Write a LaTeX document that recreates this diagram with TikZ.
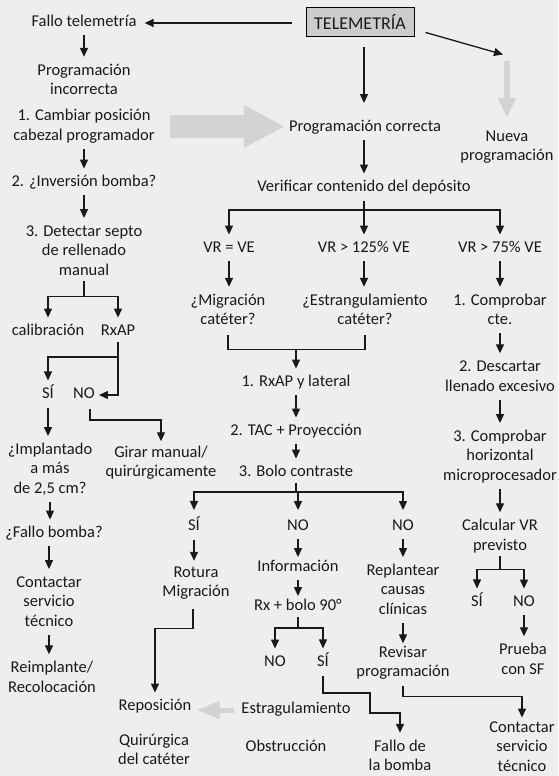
\documentclass[tikz,border=0pt]{standalone}
\usepackage{fontspec}
\setmainfont{Carlito}
\usetikzlibrary{arrows.meta}
\definecolor{bg}{HTML}{EEEEEE}
\definecolor{boxfill}{HTML}{CCCCCC}
\definecolor{ghost}{HTML}{D3D3D3}
\begin{document}
\begin{tikzpicture}[x=1pt,y=-1pt,
  t/.style={inner sep=0pt,align=center,font=\fontsize{16.5}{19.5}\selectfont,text=black!90},
  ln/.style={line width=1.3pt,draw=black!90},
  tip/.style={-{Triangle[length=9pt,width=8pt]}},
  ar/.style={ln,tip,shorten <=2.5pt,shorten >=4.5pt},
  br/.style={ln,tip,shorten >=4.5pt},
  ghostar/.style={draw=ghost}]
\fill[bg] (0,0) rectangle (558,776);
\useasboundingbox (0,0) rectangle (558,776);

% ---------- nodes ----------
\node[draw=black,line width=0.9pt,fill=boxfill,minimum width=108pt,minimum height=29pt,inner sep=0pt,
      font=\fontsize{18}{19.5}\selectfont,text=black!90] (tele) at (360,21.5) {TELEMETRÍA};

% left column
\node[t] (fallo) at (84,23) {\strut Fallo telemetría\strut};
\node[t] (proginc) at (84,81) {\strut Programación\\incorrecta\strut};
\node[t] (cambiar) at (84,126.5) {\strut 1. Cambiar posición\\cabezal programador\strut};
\node[t] (inversion) at (84,183) {\strut 2. ¿Inversión bomba?\strut};
\node[t] (detect) at (84,252) {\strut 3. Detectar septo\\de rellenado\\manual\strut};
\node[t] (calib) at (48,332) {\strut calibración\strut};
\node[t] (rxap) at (118,332) {\strut RxAP\strut};
\node[t] (si1) at (48,395) {\strut SÍ\strut};
\node[t] (no1) at (84,395) {\strut NO\strut};
\node[t] (girar) at (161,463) {\strut Girar manual/\\quirúrgicamente\strut};
\node[t] (implant) at (50,470) {\strut ¿Implantado\\a más\\de 2,5 cm?\strut};
\node[t] (fallob) at (54,534) {\strut ¿Fallo bomba?\strut};
\node[t] (contact1) at (49,603) {\strut Contactar\\servicio\\técnico\strut};
\node[t] (reimpl) at (52,678.5) {\strut Reimplante/\\Recolocación\strut};

% centre
\node[t] (progcorr) at (365,128) {\strut Programación correcta\strut};
\node[t] (nueva) at (507,147) {\strut Nueva\\programación\strut};
\node[t] (verif) at (364,188) {\strut Verificar contenido del depósito\strut};
\node[t] (vreq) at (229,249) {\strut VR = VE\strut};
\node[t] (vr125) at (364,249) {\strut VR > 125\% VE\strut};
\node[t] (vr75) at (500,249) {\strut VR > 75\% VE\strut};
\node[t] (migr) at (228,311) {\strut ¿Migración\\catéter?\strut};
\node[t] (estr) at (365,311) {\strut ¿Estrangulamiento\\catéter?\strut};
\node[t] (comprob) at (500,311) {\strut 1. Comprobar\\cte.\strut};
\node[t] (rxapl) at (296,383) {\strut 1. RxAP y lateral\strut};
\node[t] (tac) at (296,432) {\strut 2. TAC + Proyección\strut};
\node[t] (bolo) at (296,473) {\strut 3. Bolo contraste\strut};
\node[t] (si2) at (194,527) {\strut SÍ\strut};
\node[t] (no2) at (298,527) {\strut NO\strut};
\node[t] (no3) at (403,527) {\strut NO\strut};
\node[t] (rotura) at (196,583) {\strut Rotura\\Migración\strut};
\node[t] (info) at (298,568) {\strut Información\strut};
\node[t] (replant) at (403,591) {\strut Replantear\\causas\\clínicas\strut};
\node[t] (rxbolo) at (298,607) {\strut Rx + bolo 90°\strut};
\node[t] (no4) at (275,663) {\strut NO\strut};
\node[t] (si3) at (323,663) {\strut SÍ\strut};
\node[t] (revisar) at (403,663) {\strut Revisar\\programación\strut};
\node[t] (fallobomba) at (400,757) {\strut Fallo de\\la bomba\strut};
\node[t] (contact2) at (522,748) {\strut Contactar\\servicio\\técnico\strut};
\node[t] (estrag) at (296,710) {\strut Estragulamiento\strut};
\node[t] (obstr) at (286,748) {\strut Obstrucción\strut};
\node[t] (repos) at (155,707) {\strut Reposición\strut};
\node[t] (quir) at (154,751) {\strut Quirúrgica\\del catéter\strut};

% right column
\node[t] (descartar) at (500,377.5) {\strut 2. Descartar\\llenado excesivo\strut};
\node[t] (comprob3) at (500,457) {\strut 3. Comprobar\\horizontal\\microprocesador\strut};
\node[t] (calcular) at (500,536.5) {\strut Calcular VR\\previsto\strut};
\node[t] (si4) at (477,603) {\strut SÍ\strut};
\node[t] (no5) at (524,603) {\strut NO\strut};
\node[t] (prueba) at (523,660.5) {\strut Prueba\\con SF\strut};

\coordinate (nvtop) at (507,61);
\coordinate (diagend) at (503,54.5);

% ---------- connectors ----------
% top
\draw[ln,tip,shorten <=14pt,shorten >=8pt] (tele.west |- fallo.east) -- (fallo.east);
\draw[ln,tip,shorten <=11pt,shorten >=15pt] (tele.south -| verif.north) -- (verif.north |- progcorr.north);
\draw[ln,tip] ([shift={(11,-4)}]tele.south east) -- (diagend);
\draw[ghost,line width=6pt,-{Triangle[length=20pt,width=17pt]},shorten >=9.5pt] (nvtop) -- (nvtop |- nueva.north);
\draw[ghost,line width=23pt,-{Triangle[length=41pt,width=40pt]},shorten <=15pt,shorten >=4pt]
  (cambiar.east) -- (cambiar.east -| progcorr.west);

% left column
\draw[ar] (fallo) -- (proginc);
\draw[ar] (cambiar) -- (inversion);
\draw[ar] (inversion) -- (detect);
\draw[br] (detect.south) -- ++(0,15) -| (calib.north);
\draw[br] (detect.south) -- ++(0,15) -| (rxap.north);
\draw[br] (rxap.south) -- ++(0,15) -| (si1.north);
\draw[br,shorten >=4pt] (rxap.south) |- (no1.east);
\draw[br,shorten >=2pt] ([xshift=6pt]no1.south) ++(0,4) -- ++(0,11) -| (girar.north);
\draw[ar] (si1.south) -- (si1.south |- implant.north);
\draw[ar] (implant.south) -- (implant.south |- fallob.north);
\draw[ar] (contact1.north |- fallob.south) -- (contact1.north);
\draw[ar] (contact1.south) -- (contact1.south |- reimpl.north);

% centre
\draw[ar] (verif.north |- progcorr.south) -- (verif.north);
\draw[br,shorten <=3pt] (verif.south) -- ++(0,12) -| (vreq.north);
\draw[br,shorten <=3pt] (verif.south) -- ++(0,12) -| (vr125.north);
\draw[br,shorten <=3pt] (verif.south) -- ++(0,12) -| (vr75.north);
\draw[ar] (vreq.south) -- (vreq.south |- migr.north);
\draw[ar] (vr125.south) -- (vr125.south |- estr.north);
\draw[ar] (vr75) -- (comprob);
\draw[ln,shorten >=4pt] (migr.south) ++(0,4.5) -- ++(0,14) coordinate (jn) -| (estr.south);
\draw[ar,shorten <=0pt] (jn -| rxapl.north) -- (rxapl.north);
\draw[ar] (rxapl) -- (tac);
\draw[ar] (tac) -- (bolo);
\draw[br,shorten >=7pt] (bolo.south) -- ++(0,9) -| (si2.north);
\draw[br,shorten >=7pt] (bolo.south) -- ++(0,9) -| (no2.north);
\draw[br,shorten >=7pt] (bolo.south) -- ++(0,9) -| (no3.north);
\draw[ar,shorten >=2.5pt] (si2.south) -- (si2.south |- rotura.north);
\draw[ar,shorten >=1pt] (no2) -- (info);
\draw[ar] (no3) -- (replant);
\draw[ar,shorten >=1pt] (info) -- (rxbolo);
\draw[br] (rxbolo.south) -- ++(0,11) -| (no4.north);
\draw[br] (rxbolo.south) -- ++(0,11) -| (si3.north);
\draw[ar] (si3.south) -- ++(0,20) -| ++(47,20) -| (fallobomba.north);
\draw[ar] ([xshift=-3pt]rotura.south) ++(0,4) -- ++(0,22) -| (repos.north);
\draw[ar,shorten >=0pt] (replant) -- (revisar);
\draw[br,shorten >=1pt] (revisar.south) ++(0,3) -- ++(0,11) -| (contact2.north);
\draw[ghost,line width=5pt,-{Triangle[length=23pt,width=17pt]},shorten <=7pt,shorten >=5pt]
  (estrag.west) -- (estrag.west -| repos.east);

% right column
\draw[ar] (comprob) -- (descartar);
\draw[ar] (descartar) -- (comprob3);
\draw[ar] (comprob3) -- (calcular);
\draw[br] (calcular.south) -- ++(0,13) -| (si4.north);
\draw[br] (calcular.south) -- ++(0,13) -| (no5.north);
\draw[ar] (no5.south) -- (no5.south |- prueba.north);
\end{tikzpicture}
\end{document}
